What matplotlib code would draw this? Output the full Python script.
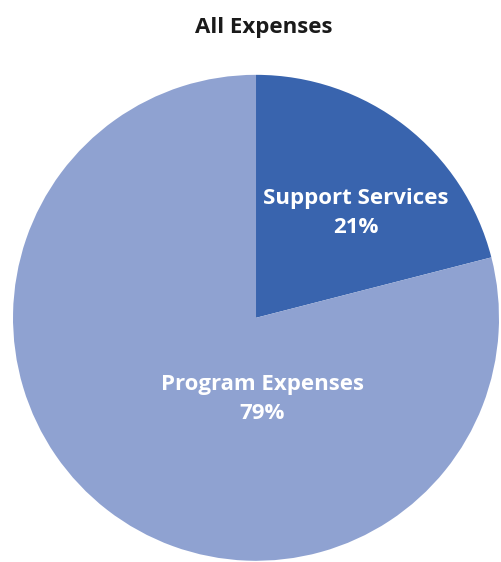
import matplotlib
matplotlib.use('Agg')
import matplotlib.pyplot as plt

categories = ['Support Services', 'Program Expenses']
shares = [21, 79]
colours = ['#3964AE', '#8FA2D1']
# label anchor points in data units (pie radius = 1)
label_pos = [(0.41, 0.43), (0.025, -0.335)]

plt.rcParams['font.family'] = ['Open Sans', 'DejaVu Sans']

fig = plt.figure(figsize=(5.01, 5.62), dpi=100)
ax = fig.add_axes([0.026, 0.002, 0.970, 0.865])

ax.pie(shares, colors=colours, startangle=90, counterclock=False,
       radius=1, wedgeprops=dict(linewidth=0))
ax.set_xlim(-1, 1)
ax.set_ylim(-1, 1)
ax.set_aspect('equal')
ax.axis('off')

for name, val, (x, y) in zip(categories, shares, label_pos):
    ax.text(x, y, f'{name}\n{val}%', ha='center', va='center',
            color='white', fontsize=16, fontweight='bold', linespacing=1.52)

fig.text(0.526, 0.951, 'All Expenses', ha='center', va='center',
         fontsize=16, fontweight='bold', color='#1a1a1a')

fig.savefig('out.png', dpi=100)
